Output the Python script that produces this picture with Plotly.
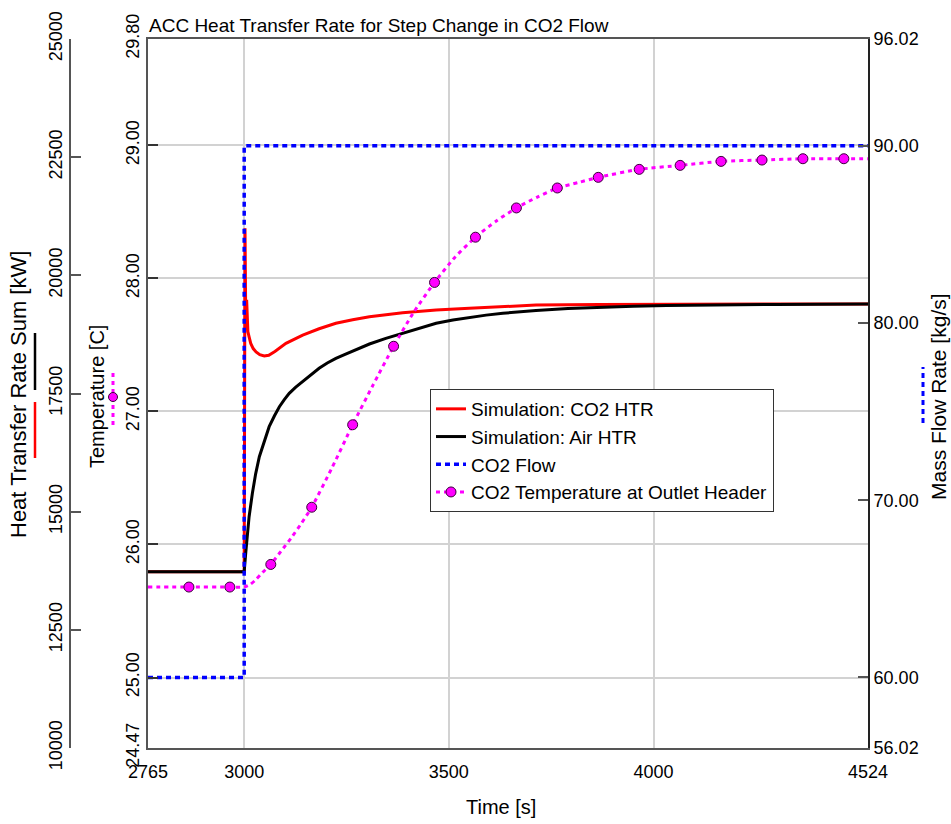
import plotly.graph_objects as go

# ---- data -------------------------------------------------------------
# CO2 mass flow step [kg/s]
flow_t = [2765, 3000, 3000, 4524]
flow_val = [60.0, 60.0, 90.0, 90.0]

# Simulated CO2-side heat transfer rate [kW]
co2_t = [2765, 3000, 3002, 3004, 3006, 3009, 3012, 3016, 3022, 3029, 3038, 3049,
         3060, 3075, 3102, 3143, 3183, 3224, 3265, 3306, 3387, 3469, 3550, 3632,
         3713, 3869, 4000, 4114, 4300, 4524]
co2_htr = [13730, 13730, 20995, 18850, 19480, 18810, 18700, 18560, 18450, 18380,
           18320, 18293, 18310, 18390, 18562, 18737, 18870, 18985, 19060, 19125,
           19210, 19267, 19302, 19340, 19372, 19385, 19390, 19393, 19393, 19393]

# Simulated air-side heat transfer rate [kW]
air_t = [2765, 3000, 3004, 3008, 3012, 3020, 3028, 3037, 3049, 3061, 3074, 3086,
         3098, 3110, 3126, 3143, 3163, 3183, 3203, 3224, 3245, 3265, 3285, 3306,
         3346, 3387, 3428, 3469, 3510, 3550, 3591, 3632, 3672, 3713, 3791, 3869,
         3950, 4032, 4114, 4200, 4300, 4400, 4524]
air_htr = [13730, 13730, 14150, 14542, 14893, 15389, 15800, 16163, 16500, 16798,
           17030, 17221, 17370, 17504, 17635, 17749, 17895, 18033, 18145, 18244,
           18325, 18400, 18475, 18547, 18665, 18773, 18885, 18985, 19055, 19112,
           19158, 19197, 19230, 19258, 19298, 19326, 19347, 19361, 19371, 19378,
           19384, 19388, 19391]

# CO2 temperature at the outlet header [C]
temp_t = [2765, 2865, 2965, 3000, 3015, 3030, 3045, 3065, 3090, 3115, 3140, 3165,
          3215, 3265, 3315, 3365, 3415, 3465, 3515, 3565, 3615, 3665, 3715, 3765,
          3815, 3865, 3965, 4065, 4165, 4265, 4365, 4465, 4524]
temp_val = [25.68, 25.68, 25.68, 25.68, 25.70, 25.74, 25.79, 25.85, 25.95, 26.05,
            26.16, 26.28, 26.58, 26.90, 27.20, 27.49, 27.75, 27.97, 28.16, 28.31,
            28.43, 28.53, 28.61, 28.68, 28.72, 28.76, 28.82, 28.85, 28.88, 28.89,
            28.90, 28.90, 28.90]
# sampled points shown with markers (every 100 s)
marker_t = [2865, 2965, 3065, 3165, 3265, 3365, 3465, 3565, 3665, 3765, 3865,
            3965, 4065, 4165, 4265, 4365, 4465]

# axis ticks
x_ticks = [2765, 3000, 3500, 4000, 4524]
htr_ticks = [10000, 12500, 15000, 17500, 20000, 22500, 25000]
temp_ticks = [24.47, 25.0, 26.0, 27.0, 28.0, 29.0, 29.80]
flow_ticks = [56.02, 60.0, 70.0, 80.0, 90.0, 96.02]

# ---- layout helpers ---------------------------------------------------
W, H = 951, 824
ML, MR, MT, MB = 20, 83, 39, 76
PW = W - ML - MR          # paper width in px
PH = H - MT - MB          # paper height in px


def px(x):
    return (x - ML) / PW


def py(y):
    return (H - MB - y) / PH


FONT = "Liberation Sans, Arial, sans-serif"
RED, BLACK, BLUE, MAGENTA = "#ff0000", "#000000", "#0000ff", "#ff00ff"
GRID = "#d2d2d2"
AXIS = "#555555"

temp_lookup = dict(zip(temp_t, temp_val))

fig = go.Figure()

fig.add_trace(go.Scatter(x=co2_t, y=co2_htr, mode="lines", name="Simulation: CO2 HTR",
                         line=dict(color=RED, width=3), yaxis="y", legendrank=1))
fig.add_trace(go.Scatter(x=air_t, y=air_htr, mode="lines", name="Simulation: Air HTR",
                         line=dict(color=BLACK, width=3), yaxis="y", legendrank=2))
fig.add_trace(go.Scatter(x=temp_t, y=temp_val, mode="lines", showlegend=False,
                         line=dict(color=MAGENTA, width=3, dash="4px,4px", shape="spline",
                                   smoothing=0.6),
                         yaxis="y2"))
fig.add_trace(go.Scatter(x=marker_t, y=[temp_lookup[t] for t in marker_t], mode="markers",
                         showlegend=False, yaxis="y2",
                         marker=dict(color=MAGENTA, size=10,
                                     line=dict(color="#3a003a", width=1))))
fig.add_trace(go.Scatter(x=[None], y=[None], mode="lines+markers",
                         name="CO2 Temperature at Outlet Header", yaxis="y2", legendrank=4,
                         line=dict(color=MAGENTA, width=3, dash="4px,4px"),
                         marker=dict(color=MAGENTA, size=10,
                                     line=dict(color="#3a003a", width=1))))
fig.add_trace(go.Scatter(x=flow_t, y=flow_val, mode="lines", name="CO2 Flow",
                         line=dict(color=BLUE, width=3.5, dash="5px,4px"),
                         yaxis="y3", legendrank=3))

tickfont = dict(family=FONT, size=18, color="black")

fig.update_layout(
    width=W, height=H,
    margin=dict(l=ML, r=MR, t=MT, b=MB, pad=0, autoexpand=False),
    paper_bgcolor="white", plot_bgcolor="white",
    font=dict(family=FONT, size=18, color="black"),
    showlegend=True,
    legend=dict(x=px(430), y=py(389), xanchor="left", yanchor="top",
                bgcolor="white", bordercolor="#333333", borderwidth=1,
                font=dict(family=FONT, size=19, color="black"),
                tracegroupgap=0),
    xaxis=dict(domain=[px(148), 1], range=[2765, 4524],
               tickmode="array", tickvals=x_ticks, ticktext=[str(v) for v in x_ticks],
               showgrid=True, gridcolor=GRID, gridwidth=2, zeroline=False,
               showline=True, linecolor=AXIS, linewidth=2, mirror=True,
               ticks="", tickfont=tickfont, ticklabelstandoff=6),
    # heat transfer rate axis (free, far left)
    yaxis=dict(range=[10000, 25000], anchor="free", position=px(70), side="left",
               tickmode="array", tickvals=htr_ticks, ticktext=[str(v) for v in htr_ticks],
               ticks="inside", ticklen=10, tickcolor=AXIS, tickwidth=1.5,
               tickangle=-90, tickfont=tickfont,
               showgrid=False, zeroline=False, automargin=False,
               showline=True, linecolor=AXIS, linewidth=2),
    # temperature axis (plot left edge)
    yaxis2=dict(range=[24.47, 29.80], overlaying="y", anchor="x", side="left",
                tickmode="array", tickvals=temp_ticks,
                ticktext=[f"{v:.2f}" for v in temp_ticks],
                ticks="inside", ticklen=10, tickcolor="#333333", tickwidth=1.5,
                tickangle=-90, tickfont=tickfont, automargin=False,
                showgrid=True, gridcolor=GRID, gridwidth=2, zeroline=False,
                showline=True, linecolor=AXIS, linewidth=2),
    # mass flow axis (right)
    yaxis3=dict(range=[56.02, 96.02], overlaying="y", anchor="x", side="right",
                tickmode="array", tickvals=flow_ticks,
                ticktext=[f"{v:.2f}" for v in flow_ticks],
                ticks="inside", ticklen=10, tickcolor=AXIS, tickwidth=1.5,
                tickfont=tickfont, automargin=False,
                showgrid=False, zeroline=False,
                showline=True, linecolor="#222222", linewidth=2),
)

ann = [
    dict(text="ACC Heat Transfer Rate for Step Change in CO2 Flow",
         x=px(147), y=py(25), xanchor="left", yanchor="middle", font=dict(size=19)),
    dict(text="Time [s]", x=px(501), y=py(807), xanchor="center", yanchor="middle",
         font=dict(size=20)),
    dict(text="Heat Transfer Rate Sum [kW]", x=px(18), y=py(395), textangle=-90,
         xanchor="center", yanchor="middle", font=dict(size=22)),
    dict(text="Temperature [C]", x=px(97), y=py(397), textangle=-90,
         xanchor="center", yanchor="middle", font=dict(size=20)),
    dict(text="Mass Flow Rate [kg/s]", x=px(938), y=py(397), textangle=-90,
         xanchor="center", yanchor="middle", font=dict(size=21)),
]
for a in ann:
    a.update(xref="paper", yref="paper", showarrow=False)
fig.update_layout(annotations=ann)

# colour keys next to the axis titles
shapes = [
    dict(type="line", x0=px(35), x1=px(35), y0=py(458), y1=py(402),
         line=dict(color=RED, width=2.5)),
    dict(type="line", x0=px(35), x1=px(35), y0=py(390), y1=py(333),
         line=dict(color=BLACK, width=2.5)),
    dict(type="line", x0=px(113), x1=px(113), y0=py(425), y1=py(370),
         line=dict(color=MAGENTA, width=3, dash="4px,4px")),
    dict(type="circle", x0=px(108.5), x1=px(117.5), y0=py(401.5), y1=py(392.5),
         fillcolor=MAGENTA, line=dict(color="#3a003a", width=1)),
    dict(type="line", x0=px(923), x1=px(923), y0=py(423), y1=py(367),
         line=dict(color=BLUE, width=3, dash="5px,4px")),
]
for s in shapes:
    s.update(xref="paper", yref="paper")
fig.update_layout(shapes=shapes)

fig.write_html("out.html")
